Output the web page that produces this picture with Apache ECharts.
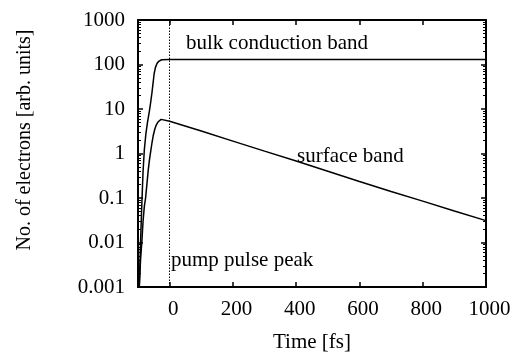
<!DOCTYPE html>
<html><head><meta charset="utf-8">
<script src="https://cdn.jsdelivr.net/npm/echarts@6/dist/echarts.min.js"></script>
<style>html,body{margin:0;padding:0;background:#fff}#c{width:516px;height:358px}</style>
</head><body><div id="c"></div>
<script>
// Data
const bulkTime   = [-96, -92, -88, -84, -80, -75, -70, -64, -60, -56, -52, -49, -45, -40, -35, -30, -25, -20, 0, 200, 400, 600, 800, 1000];
const bulkValues = [0.001, 0.01, 0.07, 0.4, 1.2, 2.8, 5, 9, 14, 23, 40, 62, 85, 105, 117, 124, 128, 129, 129, 129, 129, 129, 129, 129];
const surfaceTime   = [-96, -92, -88, -84, -80, -76, -72, -68, -64, -60, -56, -52, -47, -42, -37, -32, -27, -22, 0, 100, 200, 300, 400, 500, 600, 700, 800, 900, 1000];
const surfaceValues = [0.001, 0.004, 0.01, 0.03, 0.065, 0.1, 0.2, 0.4, 0.7, 1.1, 1.7, 2.5, 3.5, 4.4, 5.1, 5.6, 5.85, 5.85, 5.3, 3.2, 1.9, 1.13, 0.68, 0.40, 0.235, 0.14, 0.085, 0.051, 0.031];
const pumpPeakTime = 0;
const xTicks = [0, 200, 400, 600, 800, 1000];
const xTickLabels = ['0', '200', '400', '600', '800', '1000'];
const yTicks = [0.001, 0.01, 0.1, 1, 10, 100, 1000];
const yTickLabels = ['0.001', '0.01', '0.1', '1', '10', '100', '1000'];
const yMinorTicks = [];
for (let d = 0; d < yTicks.length - 1; d++) for (let k = 2; k <= 9; k++) yMinorTicks.push(+(k * yTicks[d]).toPrecision(3));
const labels = { bulk: 'bulk conduction band', surface: 'surface band', pump: 'pump pulse peak', xName: 'Time [fs]', yName: 'No. of electrons [arb. units]' };

const FONT = 'Liberation Serif';
const black = '#000';
function yFmt(v) {
  for (let i = 0; i < yTicks.length; i++) if (Math.abs(Math.log10(v) - Math.log10(yTicks[i])) < 1e-6) return yTickLabels[i];
  return '';
}
function xFmt(v) {
  const i = xTicks.indexOf(Math.round(v));
  return i >= 0 ? xTickLabels[i] : '';
}
const pair = (xs, ys) => xs.map((x, i) => [x, ys[i]]);
function yAx(pos, ticks, len, w, showLabel, showLine) {
  return {
    type: 'log', logBase: 10, min: 0.001, max: 1000, position: pos,
    axisLine: { show: showLine, onZero: false, lineStyle: { color: black, width: 2 } },
    splitLine: { show: false },
    axisTick: { show: true, inside: true, length: len, customValues: ticks, lineStyle: { color: black, width: w } },
    axisLabel: { show: showLabel, customValues: yTicks, formatter: yFmt, margin: 13, fontFamily: FONT, fontSize: 21, color: black }
  };
}
function xAx(pos, showLabel) {
  return {
    type: 'value', min: -100, max: 1000, position: pos,
    axisLine: { show: true, onZero: false, lineStyle: { color: black, width: 2 } },
    splitLine: { show: false },
    axisTick: { show: true, inside: true, length: 5, customValues: xTicks, lineStyle: { color: black, width: 1.5 } },
    axisLabel: { show: showLabel, customValues: xTicks, formatter: xFmt, margin: 12, padding: [0, 0, 0, 7], fontFamily: FONT, fontSize: 21, color: black },
    name: showLabel ? labels.xName : '', nameLocation: 'middle', nameGap: 45,
    nameTextStyle: { fontFamily: FONT, fontSize: 21, color: black }
  };
}
const chart = echarts.init(document.getElementById('c'), null, { renderer: 'canvas' });
chart.setOption({
  animation: false,
  backgroundColor: '#fff',
  grid: { left: 138, top: 20, right: 30, bottom: 64 },
  xAxis: [xAx('bottom', true), xAx('top', false)],
  yAxis: [yAx('left', yTicks, 5, 1.5, true, true), yAx('right', yTicks, 5, 1.5, false, true),
          yAx('left', yMinorTicks, 3, 1, false, false), yAx('right', yMinorTicks, 3, 1, false, false)],
  series: [
    { type: 'line', name: 'bulk', data: pair(bulkTime, bulkValues), showSymbol: false, symbol: 'none',
      lineStyle: { color: black, width: 1.5 },
      markLine: { silent: true, symbol: 'none', label: { show: false },
        lineStyle: { color: black, width: 1, type: [1.5, 1.5] }, data: [{ xAxis: pumpPeakTime }] } },
    { type: 'line', name: 'surface', data: pair(surfaceTime, surfaceValues), showSymbol: false, symbol: 'none',
      lineStyle: { color: black, width: 1.5 } }
  ],
  graphic: [
    { type: 'text', left: 186, top: 33, style: { text: labels.bulk, font: '21px "Liberation Serif"', fill: black } },
    { type: 'text', left: 297, top: 146, style: { text: labels.surface, font: '21px "Liberation Serif"', fill: black } },
    { type: 'text', left: 171, top: 250, style: { text: labels.pump, font: '21px "Liberation Serif"', fill: black } },
    { type: 'text', x: 25, y: 140, rotation: Math.PI / 2,
      style: { text: labels.yName, font: '20px "Liberation Serif"', fill: black, align: 'center', verticalAlign: 'middle' } }
  ]
});
</script></body></html>
